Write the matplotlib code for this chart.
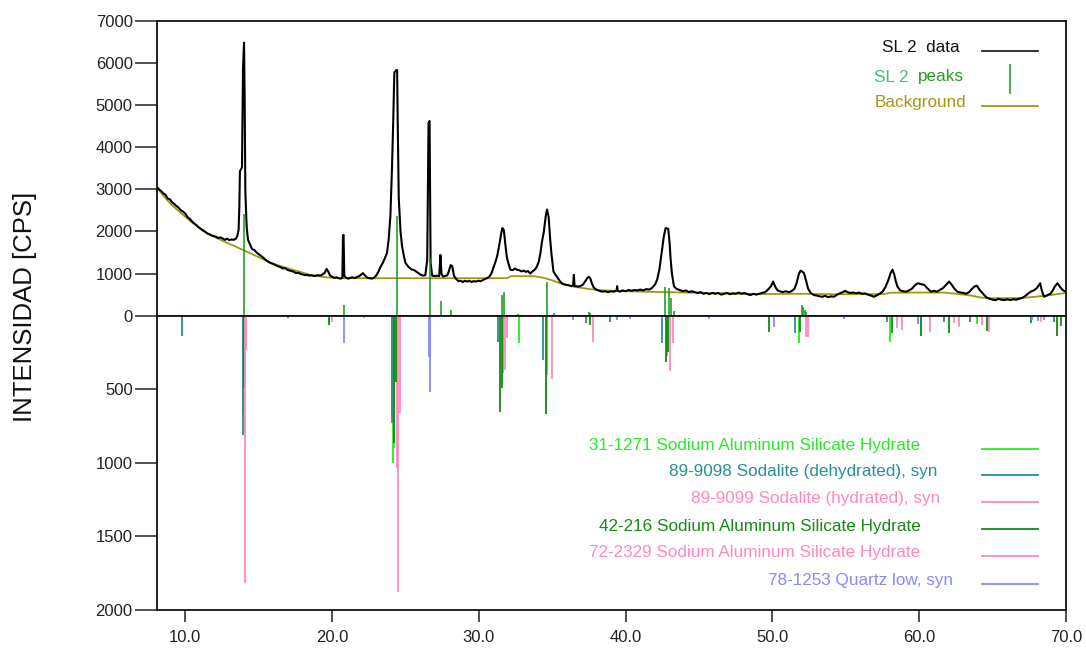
import matplotlib
matplotlib.use("Agg")
import matplotlib.pyplot as plt
from matplotlib.lines import Line2D

plt.rcParams['font.family'] = ['Liberation Sans', 'DejaVu Sans']

# ---------------- data ----------------
scan_2theta = [8.07, 8.2, 8.35, 8.5, 8.65, 8.8, 8.95, 9.1, 9.25, 9.4, 9.55, 9.7, 9.85, 10.0, 10.15,
               10.3, 10.45, 10.6, 10.75, 10.9, 11.05, 11.2, 11.35, 11.5, 11.65, 11.8, 11.95, 12.1,
               12.25, 12.4, 12.55, 12.7, 12.85, 13.0, 13.15, 13.3, 13.45, 13.55, 13.63, 13.68, 13.72,
               13.86, 13.93, 14.0, 14.04, 14.09, 14.18, 14.27, 14.4, 14.55, 14.7, 14.85, 15.0, 15.15,
               15.3, 15.45, 15.6, 15.75, 15.9, 16.05, 16.2, 16.35, 16.5, 16.65, 16.8, 16.95, 17.1,
               17.25, 17.4, 17.55, 17.7, 17.85, 18.0, 18.15, 18.3, 18.45, 18.6, 18.75, 18.9, 19.05,
               19.2, 19.35, 19.5, 19.62, 19.72, 19.85, 20.0, 20.15, 20.3, 20.45, 20.6, 20.7, 20.74,
               20.78, 20.83, 20.95, 21.1, 21.25, 21.4, 21.55, 21.7, 21.85, 22.0, 22.1, 22.25, 22.4,
               22.55, 22.7, 22.85, 23.0, 23.15, 23.3, 23.45, 23.6, 23.74, 23.85, 23.97, 24.07, 24.15,
               24.24, 24.38, 24.43, 24.47, 24.54, 24.66, 24.77, 24.9, 25.0, 25.2, 25.4, 25.6, 25.8,
               26.0, 26.2, 26.35, 26.48, 26.57, 26.64, 26.71, 26.82, 27.0, 27.15, 27.3, 27.38, 27.45,
               27.55, 27.7, 27.85, 27.95, 28.07, 28.18, 28.3, 28.45, 28.6, 28.75, 28.9, 29.05, 29.2,
               29.35, 29.5, 29.65, 29.8, 29.95, 30.1, 30.25, 30.4, 30.55, 30.7, 30.85, 31.0, 31.15,
               31.25, 31.4, 31.52, 31.6, 31.7, 31.8, 31.9, 32.0, 32.15, 32.3, 32.45, 32.6, 32.75,
               32.9, 33.05, 33.2, 33.35, 33.5, 33.65, 33.8, 33.93, 34.08, 34.2, 34.3, 34.42, 34.55,
               34.64, 34.75, 34.86, 34.94, 35.08, 35.22, 35.4, 35.54, 35.7, 35.85, 36.0, 36.15, 36.3,
               36.42, 36.47, 36.52, 36.65, 36.8, 36.95, 37.1, 37.25, 37.4, 37.5, 37.6, 37.7, 37.84,
               38.0, 38.2, 38.4, 38.6, 38.8, 39.0, 39.2, 39.38, 39.42, 39.46, 39.6, 39.8, 40.0, 40.2,
               40.4, 40.6, 40.8, 41.0, 41.2, 41.4, 41.6, 41.8, 42.0, 42.15, 42.3, 42.45, 42.6, 42.72,
               42.82, 42.9, 43.0, 43.05, 43.15, 43.29, 43.45, 43.6, 43.75, 43.9, 44.1, 44.3, 44.5,
               44.7, 44.9, 45.1, 45.3, 45.5, 45.7, 45.9, 46.1, 46.3, 46.5, 46.7, 46.9, 47.1, 47.3,
               47.5, 47.7, 47.9, 48.1, 48.3, 48.5, 48.7, 48.9, 49.1, 49.3, 49.5, 49.7, 49.9, 50.05,
               50.2, 50.35, 50.5, 50.7, 50.9, 51.1, 51.3, 51.5, 51.65, 51.8, 51.92, 52.05, 52.15,
               52.3, 52.42, 52.6, 52.83, 53.0, 53.2, 53.4, 53.6, 53.8, 54.0, 54.2, 54.4, 54.6, 54.8,
               54.95, 55.1, 55.3, 55.5, 55.7, 55.9, 56.1, 56.3, 56.5, 56.7, 56.9, 57.1, 57.3, 57.5,
               57.7, 57.9, 58.05, 58.18, 58.3, 58.4, 58.52, 58.7, 58.9, 59.1, 59.3, 59.5, 59.7, 59.9,
               60.1, 60.35, 60.55, 60.8, 61.0, 61.2, 61.4, 61.6, 61.8, 62.04, 62.2, 62.4, 62.6, 62.8,
               63.0, 63.2, 63.4, 63.6, 63.8, 63.93, 64.1, 64.25, 64.43, 64.6, 64.8, 65.0, 65.2, 65.4,
               65.6, 65.8, 66.0, 66.2, 66.4, 66.6, 66.8, 67.0, 67.2, 67.4, 67.6, 67.8, 68.0, 68.1,
               68.24, 68.35, 68.5, 68.7, 68.97, 69.1, 69.25, 69.42, 69.6, 69.8, 70.0]
scan_counts = [3060, 3000, 2960, 2900, 2870, 2780, 2760, 2690, 2650, 2600, 2560, 2500, 2470, 2420, 2340,
               2300, 2240, 2190, 2150, 2100, 2060, 2020, 1990, 1950, 1930, 1900, 1890, 1870,
               1840, 1860, 1830, 1800, 1830, 1790, 1810, 1800, 1830, 1900, 2040, 2600, 3430,
               3520, 5890, 6480, 5210, 2920, 2100, 1800, 1700, 1580, 1560, 1500, 1460, 1420,
               1380, 1330, 1290, 1260, 1240, 1220, 1190, 1170, 1150, 1120, 1130, 1090, 1070,
               1060, 1040, 1010, 1020, 990, 980, 960, 970, 950, 960, 940, 950, 960,
               950, 980, 1020, 1110, 1060, 960, 920, 900, 910, 890, 880, 900, 1900,
               1920, 950, 900, 880, 900, 910, 890, 920, 940, 980, 1010, 950, 900,
               890, 880, 900, 950, 1040, 1160, 1250, 1370, 1490, 1800, 2360, 3400, 4420,
               5770, 5830, 5830, 4600, 2800, 2000, 1640, 1400, 1250, 1160, 1100, 1080, 1030,
               980, 950, 960, 1320, 4580, 4620, 1250, 950, 940, 950, 940, 1440, 1000,
               930, 940, 960, 1050, 1200, 1180, 950, 870, 820, 830, 800, 830, 810,
               830, 800, 820, 810, 830, 820, 840, 870, 890, 920, 1000, 1150, 1300,
               1420, 1700, 1950, 2080, 2030, 1700, 1400, 1250, 1090, 1080, 1120, 1090, 1080,
               1050, 1070, 1040, 1060, 1000, 1050, 1090, 1150, 1280, 1500, 1760, 1980, 2350,
               2520, 2350, 1800, 1480, 1050, 970, 880, 810, 760, 740, 730, 720, 700,
               720, 970, 700, 700, 690, 710, 740, 820, 900, 920, 880, 760, 660,
               620, 590, 570, 580, 560, 580, 570, 600, 700, 590, 570, 600, 580, 610,
               590, 610, 600, 620, 600, 630, 620, 660, 740, 860, 1100, 1500, 1880, 2080,
               2070, 2060, 1700, 1400, 1000, 700, 640, 620, 600, 580, 600, 560, 580,
               560, 540, 560, 520, 540, 510, 540, 520, 540, 500, 520, 540, 510, 530,
               520, 550, 520, 540, 510, 490, 520, 500, 520, 540, 560, 620, 700, 810,
               680, 600, 580, 560, 580, 560, 580, 640, 780, 990, 1070, 1040, 1010,
               820, 650, 540, 490, 480, 460, 450, 470, 440, 460, 450, 500, 530, 560,
               590, 560, 540, 550, 530, 550, 520, 530, 500, 480, 450, 480, 520, 570,
               680, 850, 1010, 1090, 980, 820, 690, 600, 580, 570, 600, 640, 720, 770,
               750, 730, 650, 570, 590, 570, 610, 650, 720, 810, 740, 640, 570, 550,
               540, 520, 560, 640, 700, 710, 620, 560, 490, 430, 400, 380, 370, 400,
               380, 370, 390, 370, 390, 380, 400, 420, 460, 520, 570, 600, 650, 700,
               770, 600, 450, 480, 530, 600, 700, 770, 680, 600, 570]

bg_2theta = [8.07, 9.0, 10.36, 11.5, 12.64, 13.3, 14.0, 14.9, 16.0, 17.18, 18.54, 19.5, 20.36, 22.0,
             24.0, 28.54, 31.93, 32.2, 33.8, 34.4, 35.0, 35.6, 36.3, 37.0, 37.6, 38.5, 40.0, 42.0,
             44.0, 46.5, 48.5, 50.0, 52.0, 54.0, 56.0, 57.6, 58.0, 60.0, 61.7, 62.5, 63.5, 64.2,
             65.0, 67.0, 68.5, 70.0]
bg_counts = [3030, 2650, 2237, 1960, 1760, 1660, 1547, 1405, 1230, 1104, 968, 915, 890, 890,
             890, 890, 890, 940, 935, 900, 840, 760, 700, 660, 628, 600, 580, 565,
             550, 533, 515, 515, 520, 510, 510, 512, 545, 550, 548, 520, 480, 430,
             414, 420, 470, 540]

peaks_2theta = [14.0, 20.79, 24.4, 26.68, 27.43, 28.09, 31.6, 31.68, 32.68, 34.64, 35.1, 37.5, 37.6,
                42.68, 42.95, 43.1, 43.29, 52.0, 52.1, 52.2, 52.3]
peaks_counts = [2410, 250, 2360, 1360, 350, 125, 500, 570, 40, 810, 60, 95, 60,
                690, 650, 420, 100, 255, 200, 140, 90]

ref_names = ["31-1271 Sodium Aluminum Silicate Hydrate",
             "89-9098 Sodalite (dehydrated), syn",
             "89-9099 Sodalite (hydrated), syn",
             "42-216 Sodium Aluminum Silicate Hydrate",
             "72-2329 Sodium Aluminum Silicate Hydrate",
             "78-1253 Quartz low, syn"]
ref_colors = ["#22ee22", "#2a9090", "#ff88c0", "#138a13", "#ff88c0", "#8888ff"]

ref31_1271_2theta = [13.95, 14.02, 19.8, 24.12, 24.2, 31.63, 32.74, 34.61, 42.8, 51.8, 58.0, 63.97]
ref31_1271_int = [660, 400, 40, 1000, 900, 390, 184, 403, 274, 184, 177, 57]

ref89_9098_2theta = [9.78, 13.93, 17.0, 24.1, 31.3, 34.35, 37.3, 38.9, 42.45, 51.55, 57.8, 59.9,
                     61.7, 63.47, 69.2]
ref89_9098_int = [135, 810, 15, 730, 177, 301, 50, 40, 184, 118, 41, 50, 40, 46, 41]

ref89_9099_2theta = [14.1, 20.0, 24.45, 31.8, 34.95, 37.8, 43.0, 52.26, 58.48, 60.74, 64.74]
ref89_9099_int = [230, 40, 1036, 369, 431, 177, 376, 145, 86, 109, 113]

ref42_216_2theta = [14.0, 19.8, 24.25, 24.35, 31.47, 31.58, 34.54, 37.6, 42.72, 42.88, 49.77, 51.9,
                    58.15, 60.1, 62.0, 64.6, 67.6, 69.42, 69.65]
ref42_216_int = [492, 63, 866, 449, 653, 492, 669, 60, 313, 250, 109, 109, 120, 138, 120, 104, 50,
                 138, 70]

ref72_2329_2theta = [14.06, 22.2, 24.52, 24.6, 31.9, 43.2, 45.55, 52.4, 58.82, 62.34, 62.7, 64.3, 68.3]
ref72_2329_int = [1815, 15, 1879, 662, 152, 186, 12, 143, 97, 50, 78, 60, 40]

ref78_1253_2theta = [20.84, 26.58, 26.64, 26.68, 36.44, 39.4, 40.3, 42.45, 45.7, 50.1, 54.9, 59.95,
                     67.7, 68.1, 68.5]
ref78_1253_int = [184, 280, 517, 280, 30, 30, 20, 25, 20, 75, 20, 58, 30, 35, 30]

ref_2theta = [ref31_1271_2theta, ref89_9098_2theta, ref89_9099_2theta, ref42_216_2theta,
              ref72_2329_2theta, ref78_1253_2theta]
ref_int = [ref31_1271_int, ref89_9098_int, ref89_9099_int, ref42_216_int, ref72_2329_int,
           ref78_1253_int]

top_yticks = [0, 1000, 2000, 3000, 4000, 5000, 6000, 7000]
bot_yticks = [500, 1000, 1500, 2000]
xticks = [10, 20, 30, 40, 50, 60, 70]

# ---------------- figure ----------------
W, H = 1086, 652
fig = plt.figure(figsize=(W / 100, H / 100), dpi=100)

def fx(px):
    return px / W

def fy(py):
    return 1 - py / H

L, R = fx(157), fx(1066)
T, M, B = fy(20.7), fy(315.7), fy(610)
ax_top = fig.add_axes([L, M, R - L, T - M])
ax_bot = fig.add_axes([L, B, R - L, M - B])

tick_kw = dict(labelsize=12, width=1.1, color='#222222', labelcolor='#222222')
for ax in (ax_top, ax_bot):
    ax.set_xlim(8.07, 70)
    for s in ax.spines.values():
        s.set_linewidth(1.3)
        s.set_color('#111111')

# top panel
ax_top.set_ylim(0, 7000)
ax_top.plot(bg_2theta, bg_counts, color='#9c9a10', lw=1.3, zorder=2)
ax_top.plot(scan_2theta, scan_counts, color='black', lw=1.5, zorder=3)
ax_top.vlines(peaks_2theta, 0, peaks_counts, colors='#119911', lw=1.1, zorder=4)
ax_top.set_yticks(top_yticks)
ax_top.set_xticks([])
ax_top.tick_params(axis='y', length=16, pad=1.5, **tick_kw)

# bottom panel (reference patterns, downward)
ax_bot.set_ylim(2000, 0)
for xs, hs, c in zip(ref_2theta, ref_int, ref_colors):
    ax_bot.vlines(xs, 0, hs, colors=c, lw=1.3)
ax_bot.set_yticks(bot_yticks)
ax_bot.tick_params(axis='y', length=16, pad=1.5, **tick_kw)
ax_bot.set_xticks(xticks)
ax_bot.set_xticklabels([f"{v:.1f}" for v in xticks])
ax_bot.tick_params(axis='x', length=8.5, pad=6, **tick_kw)

# y-axis title
fig.text(fx(25), fy(307), "INTENSIDAD [CPS]", rotation=90, ha='center', va='center',
         fontsize=18.5, color='#111111')

# top legend
def leg_line(x0, x1, y0, y1, color):
    fig.add_artist(Line2D([fx(x0), fx(x1)], [fy(y0), fy(y1)], color=color, lw=1.3,
                          transform=fig.transFigure))

fig.text(fx(960), fy(47), "SL 2  data", ha='right', va='center', fontsize=12.3, color='#111111')
leg_line(982, 1038, 50.5, 50.5, '#222222')
fig.text(fx(964), fy(77), "peaks", ha='right', va='center', fontsize=12.3, color='#22a022')
fig.text(fx(909), fy(77), "SL 2", ha='right', va='center', fontsize=12.3, color='#3cc078')
leg_line(1010, 1010, 65, 92.5, '#33aa44')
fig.text(fx(966.5), fy(103), "Background", ha='right', va='center', fontsize=12.3, color='#a09a10')
leg_line(982, 1038, 106, 106, '#9c9a10')

# bottom legend
text_right = [920, 937, 940, 921, 920, 953]
line_y = [448.5, 474.5, 501.5, 529, 556, 583.5]
for name, c, xr, yl in zip(ref_names, ref_colors, text_right, line_y):
    fig.text(fx(xr), fy(yl - 3), name, ha='right', va='center', fontsize=12.3, color=c)
    leg_line(982, 1038, yl, yl, c)

fig.savefig("out.png", dpi=100)
